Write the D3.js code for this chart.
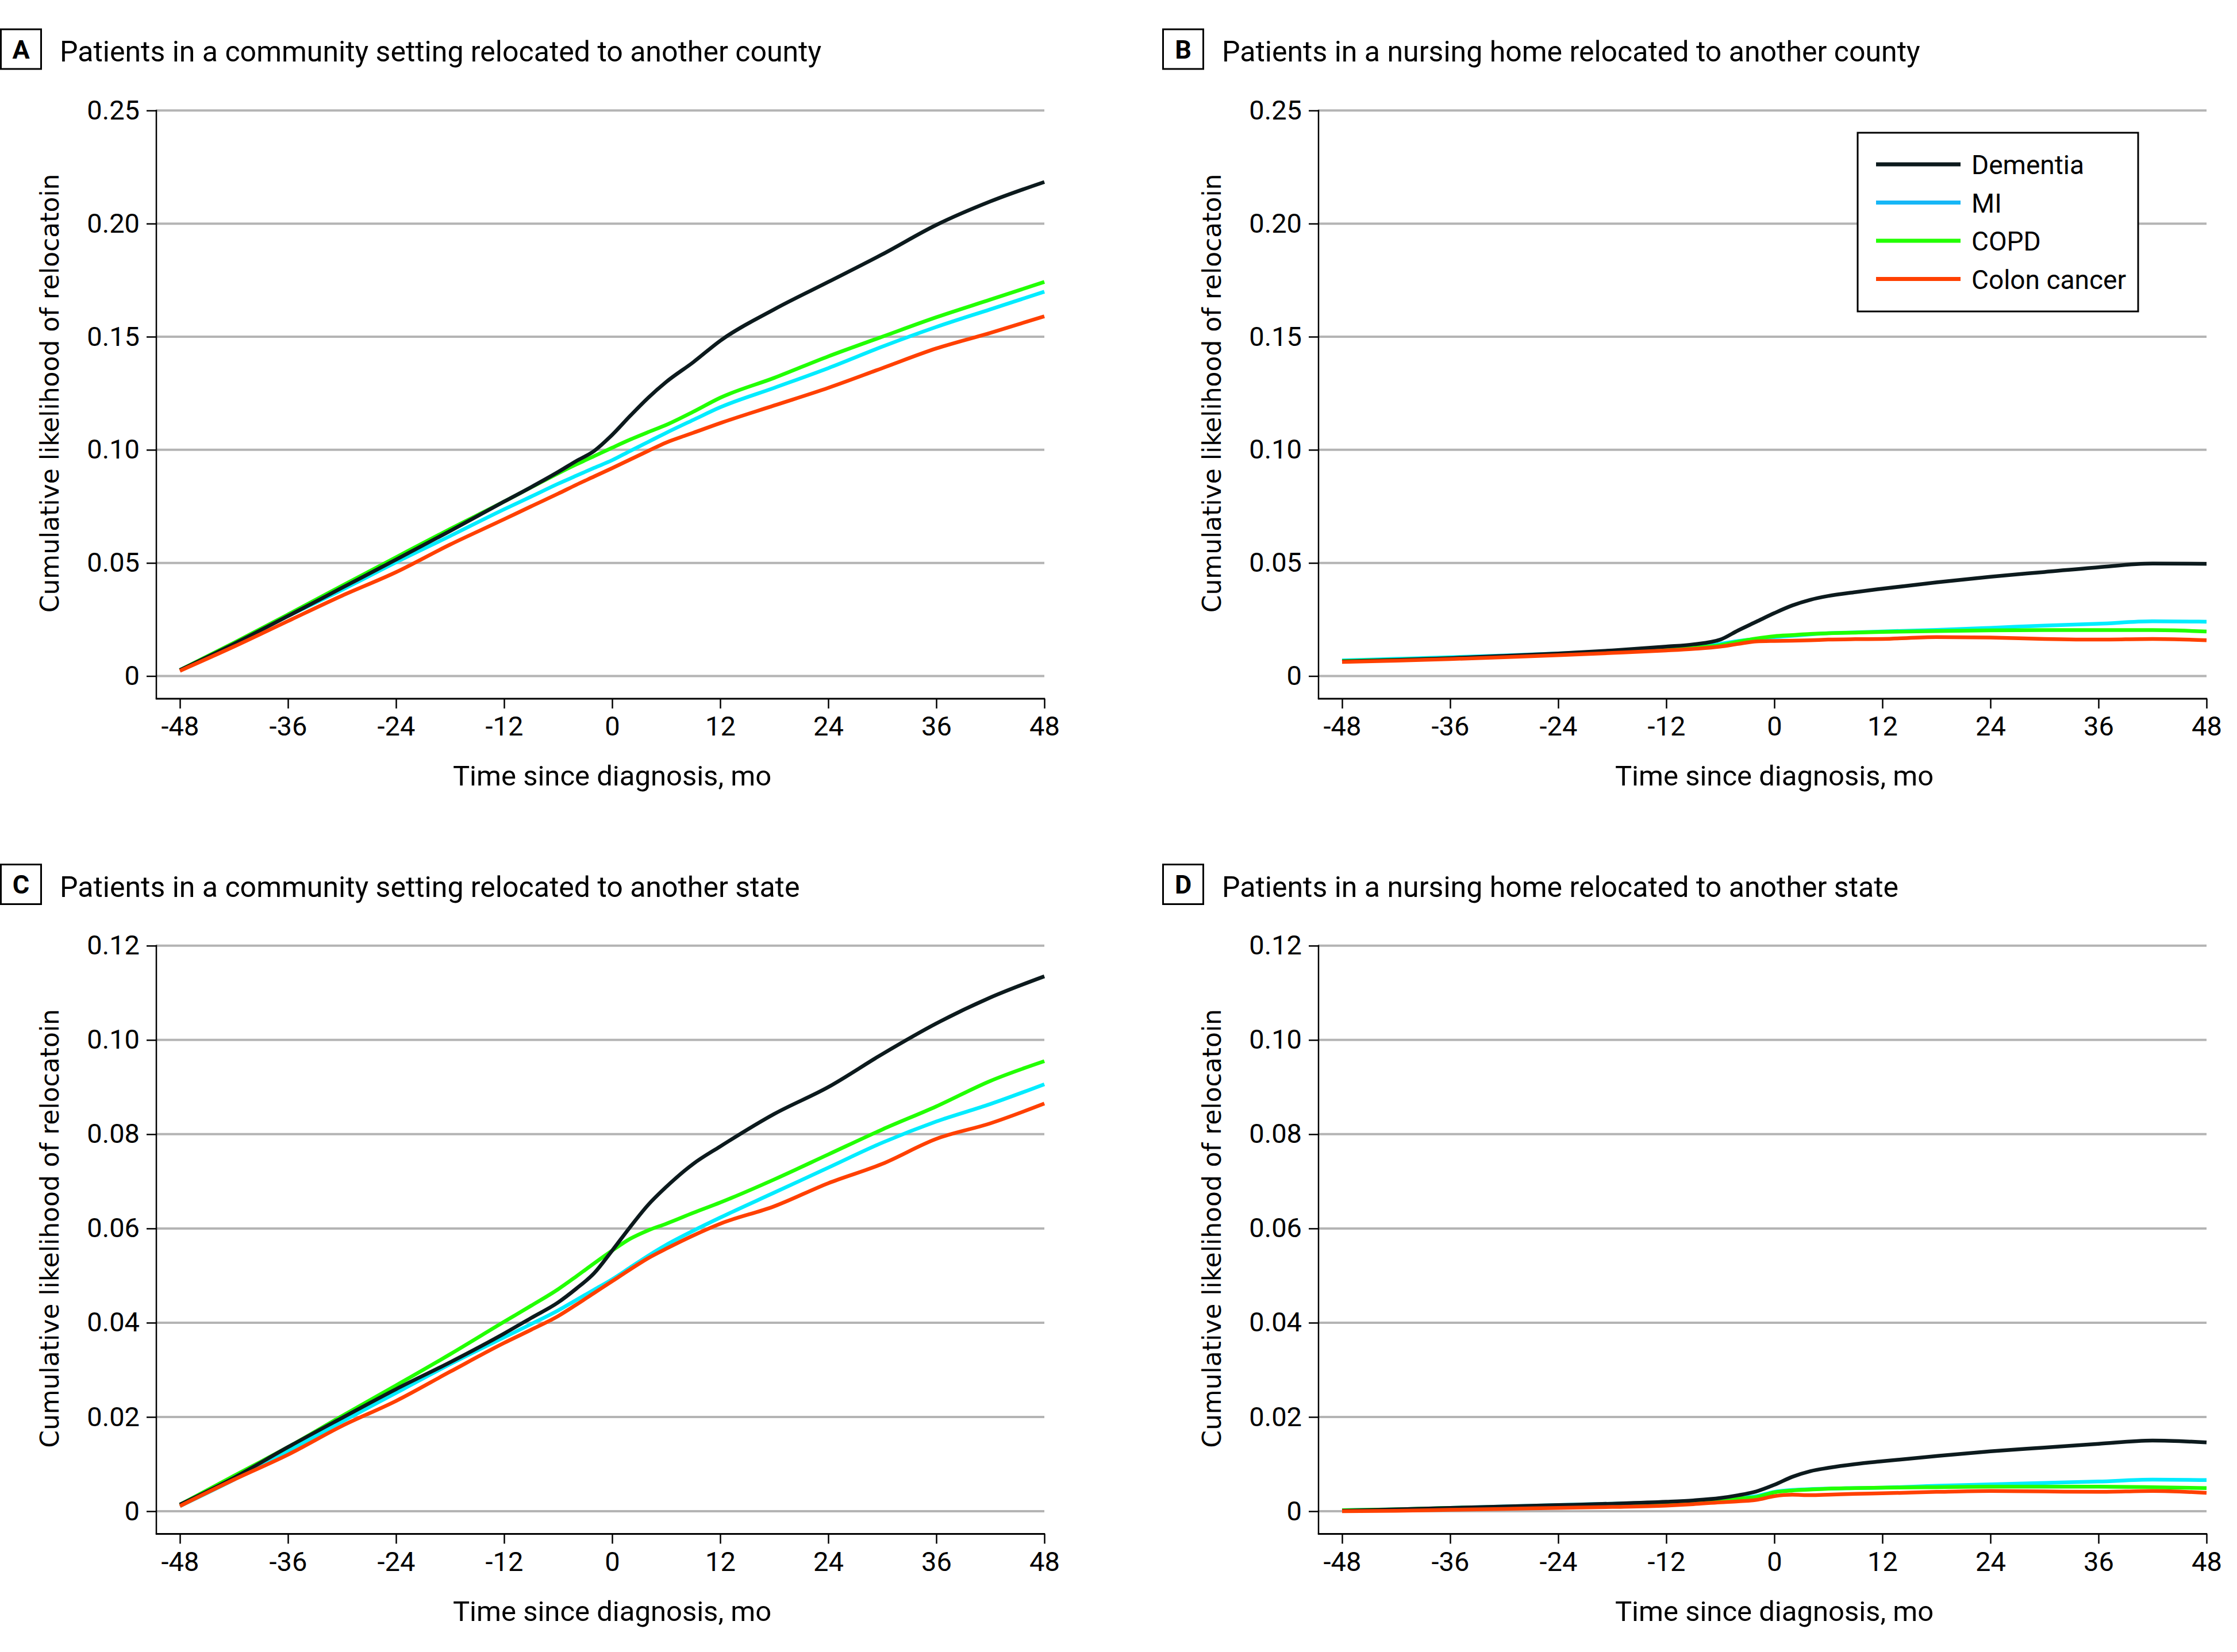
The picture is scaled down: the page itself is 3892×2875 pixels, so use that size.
<!DOCTYPE html>
<html><head><meta charset="utf-8">
<script src="https://cdn.jsdelivr.net/npm/d3@7"></script>
<style>html,body{margin:0;padding:0;background:#fff;}svg{display:block;}</style>
</head><body>
<script>
// ---------- DATA ----------
const months = [-48,-42,-36,-30,-24,-18,-12,-9,-6,-4,-2,0,2,4,6,9,12,18,24,30,36,42,48];
const seriesNames = ["Dementia","MI","COPD","Colon cancer"];
const xTicks = [-48,-36,-24,-12,0,12,24,36,48];
const yTicksCounty = [0,0.05,0.10,0.15,0.20,0.25];
const yTickLabelsCounty = ["0","0.05","0.10","0.15","0.20","0.25"];
const yTicksState = [0,0.02,0.04,0.06,0.08,0.10,0.12];
const yTickLabelsState = ["0","0.02","0.04","0.06","0.08","0.10","0.12"];
const panelLetters = ["A","B","C","D"];
const panelTitles = [
  "Patients in a community setting relocated to another county",
  "Patients in a nursing home relocated to another county",
  "Patients in a community setting relocated to another state",
  "Patients in a nursing home relocated to another state"
];
const xTitle = "Time since diagnosis, mo";
const yTitle = "Cumulative likelihood of relocatoin";

// Panel A: community, county
const aDementia = [.0026,.0142,.0265,.039,.0515,.0641,.0771,.0835,.0902,.0950,.0995,.1066,.1150,.1230,.1300,.1387,.1482,.1621,.1742,.1864,.1994,.2098,.2184];
const aMI       = [.0026,.0142,.0265,.0381,.0503,.0619,.0737,.0793,.0850,.0885,.0920,.0954,.0995,.1035,.1075,.1132,.1188,.1274,.1361,.1456,.1543,.1621,.1699];
const aCOPD     = [.0026,.0147,.0272,.0399,.0525,.0650,.0771,.0834,.0896,.0935,.0972,.1009,.1045,.1078,.1110,.1168,.1230,.1318,.1413,.1500,.1586,.1664,.1742];
const aColon    = [.0023,.0130,.0243,.0355,.0459,.0581,.0693,.0750,.0806,.0845,.0882,.0919,.0957,.0995,.1032,.1075,.1118,.1196,.1274,.1361,.1448,.1517,.1590];
// Panel B: nursing home, county
const bDementia = [.0064,.0071,.0079,.0089,.0100,.0113,.0130,.0140,.0161,.0202,.0240,.0278,.0312,.0337,.0354,.0371,.0386,.0414,.0439,.0460,.0481,.0497,.0496];
const bMI       = [.0069,.0076,.0083,.0091,.0100,.0110,.0121,.0130,.0142,.0155,.0164,.0172,.0178,.0184,.0189,.0193,.0197,.0204,.0213,.0223,.0231,.0242,.0240];
const bCOPD     = [.0066,.0072,.0079,.0087,.0096,.0106,.0117,.0126,.0136,.0152,.0166,.0176,.0181,.0186,.0189,.0192,.0195,.0199,.0202,.0203,.0203,.0203,.0197];
const bColon    = [.0062,.0068,.0075,.0083,.0092,.0102,.0113,.0120,.0130,.0142,.0153,.0155,.0156,.0158,.0161,.0163,.0164,.0172,.0170,.0164,.0161,.0164,.0158];
// Panel C: community, state
const cDementia = [.0014,.0071,.0136,.0198,.0259,.0316,.0377,.0410,.0443,.0472,.0505,.0553,.0603,.0650,.0688,.0737,.0774,.0843,.0900,.0970,.1035,.1090,.1135];
const cMI       = [.0011,.0067,.0128,.0190,.0251,.0312,.0369,.0397,.0426,.0448,.0470,.0492,.0517,.0542,.0565,.0595,.0623,.0676,.0729,.0782,.0827,.0864,.0906];
const cCOPD     = [.0014,.0075,.0136,.0202,.0267,.0333,.0402,.0436,.0471,.0498,.0526,.0553,.0578,.0596,.0610,.0633,.0655,.0704,.0757,.0810,.0859,.0913,.0955];
const cColon    = [.0011,.0067,.0120,.0181,.0234,.0296,.0357,.0385,.0414,.0438,.0463,.0488,.0513,.0537,.0557,.0585,.0610,.0647,.0696,.0737,.0790,.0823,.0865];
// Panel D: nursing home, state
const dDementia = [.0001,.0004,.0007,.0010,.0013,.0016,.0020,.0023,.0028,.0034,.0042,.0056,.0073,.0085,.0092,.0100,.0106,.0117,.0127,.0135,.0143,.0150,.0146];
const dMI       = [.0002,.0004,.0007,.0010,.0013,.0016,.0019,.0022,.0026,.0029,.0032,.0041,.0045,.0047,.0048,.0049,.0050,.0054,.0057,.0060,.0063,.0067,.0066];
const dCOPD     = [.0002,.0004,.0007,.0009,.0011,.0014,.0017,.0020,.0024,.0027,.0030,.0040,.0044,.0046,.0048,.0049,.0050,.0051,.0052,.0052,.0052,.0051,.0049];
const dColon    = [.0000,.0001,.0003,.0005,.0007,.0009,.0012,.0015,.0019,.0021,.0024,.0032,.0035,.0034,.0035,.0037,.0038,.0041,.0043,.0042,.0041,.0043,.0039];

// ---------- STYLE ----------
const W = 3892, H = 2875;
const lineColors = {"Dementia":"#0c1a1d","MI":"#00ecff","COPD":"#22ff00","Colon cancer":"#ff4000"};
const legendColors = {"Dementia":"#0c1a1d","MI":"#16b6f6","COPD":"#22ff00","Colon cancer":"#ff4000"};
const drawOrder = ["MI","COPD","Dementia","Colon cancer"];
const tickFont = "Roboto, 'Liberation Sans', sans-serif";
const yTitleFont = "'DejaVu Sans', Verdana, sans-serif";

const panels = [
  {letter:0, dx:0,    dy:0,      max:0.25, ticks:yTicksCounty, labels:yTickLabelsCounty, data:{"Dementia":aDementia,"MI":aMI,"COPD":aCOPD,"Colon cancer":aColon}, legend:false},
  {letter:1, dx:2022, dy:0,      max:0.25, ticks:yTicksCounty, labels:yTickLabelsCounty, data:{"Dementia":bDementia,"MI":bMI,"COPD":bCOPD,"Colon cancer":bColon}, legend:true},
  {letter:2, dx:0,    dy:1453.5, max:0.12, ticks:yTicksState,  labels:yTickLabelsState,  data:{"Dementia":cDementia,"MI":cMI,"COPD":cCOPD,"Colon cancer":cColon}, legend:false},
  {letter:3, dx:2022, dy:1453.5, max:0.12, ticks:yTicksState,  labels:yTickLabelsState,  data:{"Dementia":dDementia,"MI":dMI,"COPD":dCOPD,"Colon cancer":dColon}, legend:false}
];

const svg = d3.select("body").append("svg").attr("width",W).attr("height",H);
svg.append("rect").attr("width",W).attr("height",H).attr("fill","#fff");

const axisLeftX = 272, plotTop = 192.3, zeroY = 1176.5, axisBottomY = 1216;

panels.forEach(p => {
  const g = svg.append("g").attr("transform",`translate(${p.dx},${p.dy})`);
  const x = d3.scaleLinear().domain([-48,48]).range([313,1817]);
  const y = d3.scaleLinear().domain([0,p.max]).range([zeroY,plotTop]);

  // panel label box + title
  g.append("rect").attr("x",1.5).attr("y",51).attr("width",70).attr("height",69)
    .attr("fill","#fff").attr("stroke","#000").attr("stroke-width",3);
  g.append("text").attr("x",36.5).attr("y",101.5).attr("text-anchor","middle")
    .attr("font-family",tickFont).attr("font-weight","bold").attr("font-size",45)
    .text(panelLetters[p.letter]);
  g.append("text").attr("x",104).attr("y",107).attr("font-family",tickFont)
    .attr("font-size",50).attr("fill","#000").text(panelTitles[p.letter]);

  // gridlines
  g.append("g").selectAll("line").data(p.ticks).join("line")
    .attr("x1",axisLeftX).attr("x2",x(48)).attr("y1",d=>y(d)).attr("y2",d=>y(d))
    .attr("stroke","#b4b4b4").attr("stroke-width",4);

  // y axis
  const yAxis = d3.axisLeft(y).tickValues(p.ticks).tickSize(17).tickPadding(12)
    .tickFormat((d,i)=>p.labels[i]);
  const ya = g.append("g").attr("transform",`translate(${axisLeftX},0)`).call(yAxis);
  ya.select(".domain").remove();
  ya.selectAll(".tick line").attr("stroke","#000").attr("stroke-width",2.5);
  ya.selectAll(".tick text").attr("font-family",tickFont).attr("font-size",47).attr("fill","#000");
  g.append("line").attr("x1",axisLeftX).attr("x2",axisLeftX).attr("y1",plotTop-1.2).attr("y2",axisBottomY)
    .attr("stroke","#000").attr("stroke-width",2.5);

  // x axis
  const xAxis = d3.axisBottom(x).tickValues(xTicks).tickSize(17).tickPadding(14).tickFormat(d=>String(d));
  const xa = g.append("g").attr("transform",`translate(0,${axisBottomY})`).call(xAxis);
  xa.select(".domain").remove();
  xa.selectAll(".tick line").attr("stroke","#000").attr("stroke-width",2.5);
  xa.selectAll(".tick text").attr("font-family",tickFont).attr("font-size",47).attr("fill","#000");
  g.append("line").attr("x1",axisLeftX-1.2).attr("x2",x(48)+1.2).attr("y1",axisBottomY).attr("y2",axisBottomY)
    .attr("stroke","#000").attr("stroke-width",3);

  // axis titles
  g.append("text").attr("x",(x(-48)+x(48))/2).attr("y",1367).attr("text-anchor","middle")
    .attr("font-family",tickFont).attr("font-size",49).attr("fill","#000").text(xTitle);
  g.append("text").attr("transform",`translate(102,${(plotTop+zeroY)/2}) rotate(-90)`)
    .attr("text-anchor","middle").attr("font-family",yTitleFont).attr("font-size",44)
    .attr("fill","#000").text(yTitle);

  // lines
  const line = d3.line().x((d,i)=>x(months[i])).y(d=>y(d)).curve(d3.curveMonotoneX);
  drawOrder.forEach(name => {
    g.append("path").datum(p.data[name]).attr("d",line).attr("fill","none")
      .attr("stroke",lineColors[name]).attr("stroke-width",6.5).attr("stroke-linejoin","round");
  });

  // legend
  if (p.legend) {
    const lg = g.append("g").attr("transform",`translate(${3232-p.dx},231)`);
    lg.append("rect").attr("x",0).attr("y",0).attr("width",488).attr("height",311)
      .attr("fill","#fff").attr("stroke","#000").attr("stroke-width",3);
    seriesNames.forEach((name,i) => {
      const cy = 55 + i*66.5;
      lg.append("line").attr("x1",32).attr("x2",179).attr("y1",cy).attr("y2",cy)
        .attr("stroke",legendColors[name]).attr("stroke-width",7);
      lg.append("text").attr("x",198).attr("y",cy+17).attr("font-family",tickFont)
        .attr("font-size",46).attr("fill","#000").text(name);
    });
  }
});
</script>
</body></html>
